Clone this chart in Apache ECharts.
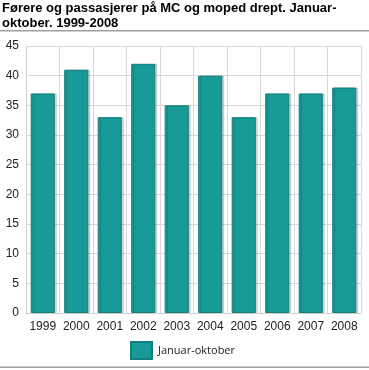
<!DOCTYPE html>
<html><head><meta charset="utf-8">
<script src="https://cdn.jsdelivr.net/npm/echarts@6/dist/echarts.min.js"></script>
<style>html,body{margin:0;padding:0;background:#fff}#c{width:369px;height:370px}</style>
</head><body><div id="c"></div>
<script>
const titleText = 'Førere og passasjerer på MC og moped drept. Januar-\noktober. 1999-2008';
const categories = ['1999','2000','2001','2002','2003','2004','2005','2006','2007','2008'];
const seriesName = 'Januar-oktober';
const values = [37, 41, 33, 42, 35, 40, 33, 37, 37, 38];
const yTicks = [0, 5, 10, 15, 20, 25, 30, 35, 40, 45];

const chart = echarts.init(document.getElementById('c'), null, {renderer:'canvas'});
chart.setOption({
  animation: false,
  title: {
    text: titleText, left: 2, top: 1, padding: 0,
    textStyle: {fontFamily: 'Liberation Sans, Arial', fontWeight: 'bold', fontSize: 13, lineHeight: 15, color: '#000'}
  },
  graphic: [
    {type: 'rect', shape: {x: 0, y: 30, width: 369, height: 1.5}, style: {fill: '#a0a0a0'}},
    {type: 'rect', shape: {x: 0, y: 366.5, width: 369, height: 1.5}, style: {fill: '#a0a0a0'}}
  ],
  legend: {
    data: [seriesName], left: 130, top: 341, padding: 0, itemWidth: 21, itemHeight: 17, itemGap: 6,
    icon: 'rect',
    textStyle: {fontFamily: 'Open Sans, Noto Sans', fontSize: 11, color: '#222', padding: [0,0,0,1]}
  },
  grid: {left: 26, right: 8, top: 46, bottom: 57, containLabel: false},
  xAxis: {
    type: 'category', data: categories, boundaryGap: true,
    axisLine: {show: true, lineStyle: {color: '#cfcfcf'}},
    axisTick: {show: false},
    splitLine: {show: true, lineStyle: {color: '#d8d8d8', width: 1}},
    axisLabel: {fontFamily: 'Liberation Sans, Arial', fontSize: 12, color: '#222', margin: 8, interval: 0}
  },
  yAxis: {
    type: 'value', min: yTicks[0], max: yTicks[yTicks.length-1], interval: 5,
    axisLine: {show: true, lineStyle: {color: '#cfcfcf'}},
    axisTick: {show: false},
    splitLine: {show: true, lineStyle: {color: '#d8d8d8', width: 1}},
    axisLabel: {fontFamily: 'Liberation Sans, Arial', fontSize: 12, color: '#222', margin: 7}
  },
  series: [{
    name: seriesName, type: 'bar', data: values, barWidth: '72%',
    itemStyle: {color: '#179a98', borderColor: '#137f7d', borderWidth: 1,
      shadowColor: 'rgba(0,0,0,0.15)', shadowOffsetX: 2, shadowOffsetY: 0, shadowBlur: 0}
  }]
});
</script></body></html>
